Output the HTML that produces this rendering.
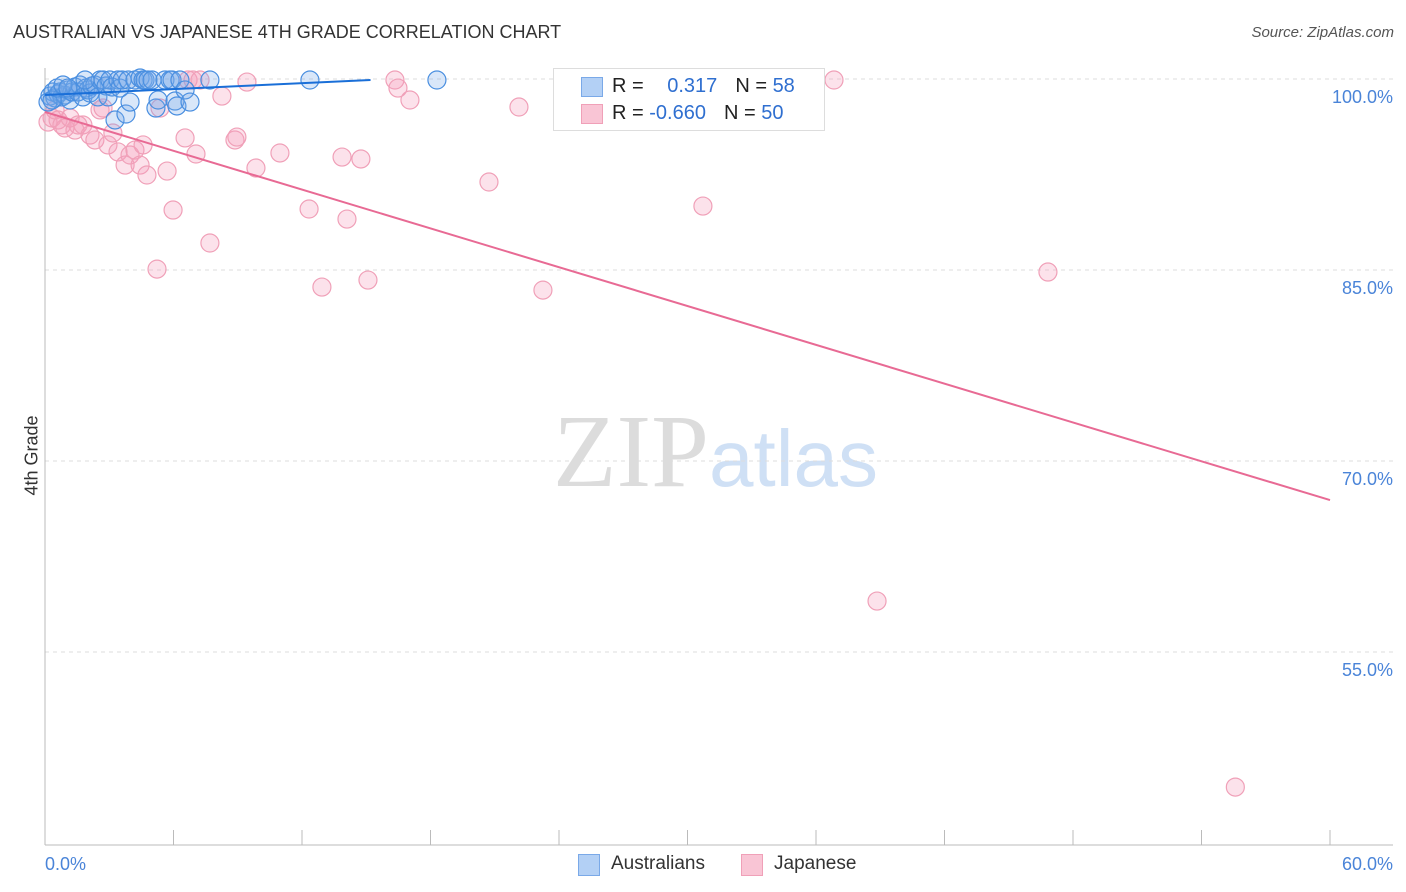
<!DOCTYPE html>
<html><head><meta charset="utf-8"><style>
body{margin:0;background:#fff;font-family:"Liberation Sans",sans-serif;}
#wrap{position:relative;width:1406px;height:892px;overflow:hidden;}
.t{position:absolute;white-space:nowrap;}
</style></head><body>
<div id="wrap">
<div class="t" style="left:13px;top:22px;font-size:18px;color:#333;">AUSTRALIAN VS JAPANESE 4TH GRADE CORRELATION CHART</div>
<div class="t" style="right:12px;top:24px;font-size:15px;color:#555;font-style:italic;">Source: ZipAtlas.com</div>
<div class="t" style="left:-8px;top:445px;font-size:18px;color:#333;transform:rotate(-90deg);">4th Grade</div>
<div class="t" style="left:553px;top:392px;font-size:104px;font-family:'Liberation Serif',serif;color:#dcdcdc;">ZIP<span style="font-family:'Liberation Sans',sans-serif;color:#cfe0f5;font-size:80px;">atlas</span></div>
<svg id="svg" width="1406" height="892" style="position:absolute;left:0;top:0;"></svg>
<div style="position:absolute;left:553px;top:68px;width:270px;height:61px;border:1px solid #ddd;background:#fff;">
 <div style="position:absolute;left:27px;top:8px;width:20px;height:18px;background:#b3d0f5;border:1px solid #7aa9e8;"></div>
 <div class="t" style="left:58px;top:6px;font-size:20px;color:#222;">R = <span style="color:#2f6fd0;margin-left:18px;">0.317</span><span style="margin-left:18px;">N = </span><span style="color:#2f6fd0;">58</span></div>
 <div style="position:absolute;left:27px;top:35px;width:20px;height:18px;background:#f9c5d5;border:1px solid #f0a0b8;"></div>
 <div class="t" style="left:58px;top:33px;font-size:20px;color:#222;">R = <span style="color:#2f6fd0;">-0.660</span><span style="margin-left:18px;">N = </span><span style="color:#2f6fd0;">50</span></div>
</div>
<div style="position:absolute;left:578px;top:853px;">
 <div style="position:absolute;left:0;top:1px;width:20px;height:20px;background:#b3d0f5;border:1px solid #7aa9e8;"></div>
 <div class="t" style="left:33px;top:0;font-size:19px;color:#333;">Australians</div></div>
<div style="position:absolute;left:741px;top:853px;">
 <div style="position:absolute;left:0;top:1px;width:20px;height:20px;background:#f9c5d5;border:1px solid #f0a0b8;"></div>
 <div class="t" style="left:33px;top:0;font-size:19px;color:#333;">Japanese</div></div>
</div>
<script>
const yTicks=[100,85,70,55];
const yTickLabels=["100.0%","85.0%","70.0%","55.0%"];
const xTickLabels=["0.0%","60.0%"];
const blueX=[0.23,0.37,0.47,0.61,0.70,0.79,0.93,1.07,1.17,1.26,1.40,1.54,1.63,1.77,1.91,2.01,2.10,2.19,2.33,2.47,2.57,2.71,2.85,2.94,3.03,3.13,3.27,3.41,3.50,3.60,3.78,3.88,3.97,4.20,4.44,4.58,4.67,4.81,5.00,5.18,5.28,5.60,5.84,5.93,6.07,6.16,6.30,6.54,6.77,7.70,12.37,18.30,0.14,0.33,0.56,0.84,1.07,1.87];
const blueY=[98.66,98.98,98.51,98.82,98.98,98.59,98.74,99.14,98.35,98.98,99.37,98.98,99.53,98.59,99.29,99.14,98.90,99.45,99.53,98.59,99.92,99.92,99.45,98.59,99.92,99.37,96.78,99.92,99.29,99.92,97.25,99.92,98.19,99.92,100.08,99.92,99.92,99.92,99.92,97.72,98.35,99.92,99.92,99.92,98.27,97.88,99.92,99.14,98.19,99.92,99.92,99.92,98.19,98.35,99.29,99.53,99.29,99.92];
const pinkX=[0.14,0.33,0.47,0.61,0.79,0.93,1.17,1.40,1.54,1.77,2.10,2.33,2.57,2.71,2.94,3.17,3.41,3.74,3.97,4.20,4.44,4.58,4.76,5.37,5.23,5.70,5.98,6.54,6.68,6.91,7.05,7.24,7.70,8.26,8.87,8.96,9.43,9.85,10.97,12.33,12.93,13.87,14.10,14.75,15.08,16.34,16.48,17.04,20.73,22.13,23.25,30.72,36.84,46.83,38.85,55.58];
const pinkY=[96.62,96.94,97.57,96.78,96.39,96.15,96.94,95.99,96.39,96.39,95.60,95.21,97.57,97.72,94.82,95.76,94.27,93.24,94.03,94.42,93.24,94.82,92.46,97.72,85.07,92.77,89.71,95.37,99.92,99.92,94.11,99.92,87.12,98.66,95.21,95.44,99.76,93.01,94.19,89.79,83.66,93.87,89.00,93.72,84.21,99.92,99.29,98.35,91.91,97.80,83.42,90.02,99.92,84.84,59.00,44.39];
const blueTrendX=[0,15.2];
const blueTrendY=[98.74,99.92];
const pinkTrendX=[0,60];
const pinkTrendY=[97.41,66.93];
const X=v=>45+v/60*1285;
const Y=v=>79+(100-v)*191/15;
const svg=document.getElementById('svg');
const NS='http://www.w3.org/2000/svg';
function mk(tag,attrs){const e=document.createElementNS(NS,tag);for(const k in attrs)e.setAttribute(k,attrs[k]);svg.appendChild(e);return e;}
yTicks.forEach((v,i)=>{
 const g=mk('line',{x1:45,x2:1393,y1:Y(v),y2:Y(v),stroke:'#ddd','stroke-dasharray':'4,4'});
 
 
 const t=mk('text',{x:1393,y:Y(v)+24,'text-anchor':'end','font-size':18,fill:'#4a84d8','font-family':'Liberation Sans, sans-serif'});
 t.textContent=yTickLabels[i];
 
 
});
const ax=mk('line',{x1:45,x2:45,y1:68,y2:845,stroke:'#bbb'});


const bx=mk('line',{x1:45,x2:1393,y1:845,y2:845,stroke:'#bbb'});


for(let i=0;i<=10;i++){
 const tk=mk('line',{x1:X(i*6),x2:X(i*6),y1:830,y2:845,stroke:'#bbb'});
 
 
}
[[0,'start',45],[1,'end',1393]].forEach(([i,a,x])=>{
 const t=mk('text',{x:x,y:870,'text-anchor':a,'font-size':18,fill:'#4a84d8','font-family':'Liberation Sans, sans-serif'});
 t.textContent=xTickLabels[i];
 
 
});
pinkX.forEach((x,i)=>{
 const c=mk('circle',{cx:X(x),cy:Y(pinkY[i]),r:9,fill:'rgba(245,160,188,0.3)',stroke:'#f0a0b8','stroke-width':1.2});
 
 
});
blueX.forEach((x,i)=>{
 const c=mk('circle',{cx:X(x),cy:Y(blueY[i]),r:9,fill:'rgba(120,170,235,0.28)',stroke:'#4a8fe0','stroke-width':1.2});
 
 
});
const pt=mk('line',{x1:X(pinkTrendX[0]),y1:Y(pinkTrendY[0]),x2:X(pinkTrendX[1]),y2:Y(pinkTrendY[1]),stroke:'#e86a94','stroke-width':2});


const btl=mk('line',{x1:X(blueTrendX[0]),y1:Y(blueTrendY[0]),x2:X(blueTrendX[1]),y2:Y(blueTrendY[1]),stroke:'#1a6fd8','stroke-width':2});


</script>
</body></html>
